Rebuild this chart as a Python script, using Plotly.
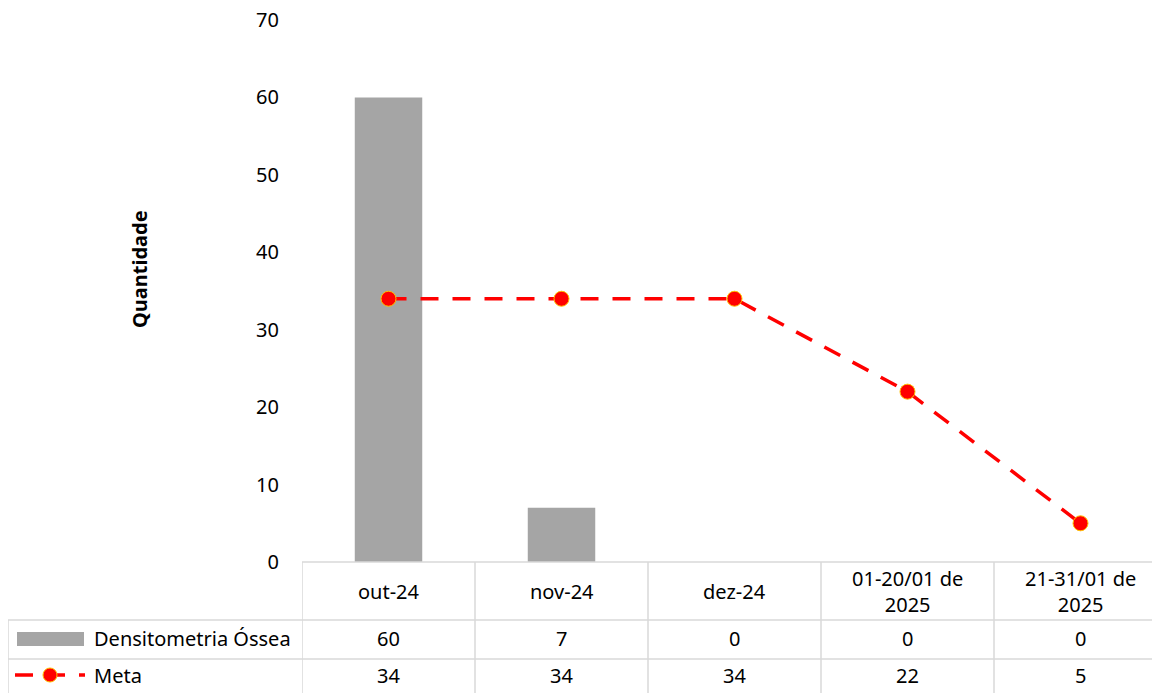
import plotly.graph_objects as go

categories = ["out-24", "nov-24", "dez-24", "01-20/01 de<br>2025", "21-31/01 de<br>2025"]
densitometria = [60, 7, 0, 0, 0]
meta = [34, 34, 34, 22, 5]
y_ticks = [0, 10, 20, 30, 40, 50, 60, 70]
series_names = ["Densitometria Óssea", "Meta"]

W, H = 1160, 693
OFF = 8  # page body margin offset
FONT = "Noto Sans"
FS = 20
GRID = "#d9d9d9"
BAR = "#a5a5a5"
RED = "#ff0000"

def py(y):
    return 1 - (y - OFF) / H

def px(x):
    return (x - OFF) / W

x_left = 302
x_right = W + OFF
col_w = 173
xr = [-0.5, -0.5 + (x_right - x_left) / col_w]

idx = list(range(len(categories)))

fig = go.Figure()
fig.add_trace(go.Bar(x=idx, y=densitometria, name=series_names[0], marker_color=BAR,
                     width=0.39, showlegend=False))
fig.add_trace(go.Scatter(x=idx, y=meta, name=series_names[1], mode="lines+markers",
                         line=dict(color=RED, width=3.5, dash="18px,14px"),
                         marker=dict(size=15, color=RED, line=dict(color="#ffc000", width=1)),
                         showlegend=False, cliponaxis=False))

shapes = []
ln = dict(color=GRID, width=1.5)
shapes.append(dict(type="line", xref="paper", yref="paper", x0=px(x_left), x1=1, y0=py(562), y1=py(562), line=ln))
for yy in (620, 659):
    shapes.append(dict(type="line", xref="paper", yref="paper", x0=px(8), x1=1, y0=py(yy), y1=py(yy), line=ln))
shapes.append(dict(type="line", xref="paper", yref="paper", x0=px(8), x1=px(8), y0=py(620), y1=0, line=ln))
for i in range(len(categories) + 1):
    shapes.append(dict(type="line", xref="x", yref="paper", x0=i - 0.5, x1=i - 0.5, y0=py(562), y1=0, line=ln))

shapes.append(dict(type="rect", xref="paper", yref="paper", x0=px(17), x1=px(84), y0=py(646), y1=py(632),
                   fillcolor=BAR, line=dict(width=0)))
shapes.append(dict(type="line", xref="paper", yref="paper", x0=px(15), x1=px(85), y0=py(675), y1=py(675),
                   line=dict(color=RED, width=3.5, dash="18px,14px")))
shapes.append(dict(type="circle", xref="paper", yref="paper", x0=px(43), x1=px(57), y0=py(682), y1=py(668),
                   fillcolor=RED, line=dict(color="#ffc000", width=1)))

annotations = []
for i, c in enumerate(categories):
    annotations.append(dict(x=i, xref="x", y=py(591), yref="paper", text=c, showarrow=False,
                            font=dict(family=FONT, size=FS, color="#000"), xanchor="center", yanchor="middle"))
    annotations.append(dict(x=i, xref="x", y=py(638), yref="paper", text=str(densitometria[i]), showarrow=False,
                            font=dict(family=FONT, size=FS, color="#000"), xanchor="center", yanchor="middle"))
    annotations.append(dict(x=i, xref="x", y=py(675), yref="paper", text=str(meta[i]), showarrow=False,
                            font=dict(family=FONT, size=FS, color="#000"), xanchor="center", yanchor="middle"))
annotations.append(dict(x=px(92), xref="paper", y=py(638), yref="paper", text=series_names[0], showarrow=False,
                        font=dict(family=FONT, size=FS, color="#000"), xanchor="left", yanchor="middle"))
annotations.append(dict(x=px(92), xref="paper", y=py(675), yref="paper", text=series_names[1], showarrow=False,
                        font=dict(family=FONT, size=FS, color="#000"), xanchor="left", yanchor="middle"))
annotations.append(dict(x=px(139), xref="paper", y=py(269), yref="paper", text="<b>Quantidade</b>", showarrow=False,
                        textangle=-90, font=dict(family=FONT, size=20, color="#000"),
                        xanchor="center", yanchor="middle"))

fig.update_layout(
    template="none",
    width=W, height=H,
    margin=dict(l=0, r=0, t=0, b=0, pad=0),
    paper_bgcolor="white", plot_bgcolor="white",
    xaxis=dict(domain=[px(x_left), 1], range=xr, showticklabels=False, showgrid=False,
               zeroline=False, showline=False, ticks="", automargin=False),
    yaxis=dict(domain=[py(562), py(20)], range=[0, 70], tickvals=y_ticks, showgrid=False,
               zeroline=False, showline=False, ticks="", ticklabelstandoff=22, automargin=False,
               ticklabeloverflow="allow",
               tickfont=dict(family=FONT, size=FS, color="#000")),
    shapes=shapes, annotations=annotations,
    bargap=0.6,
)

fig.write_html("out.html")
